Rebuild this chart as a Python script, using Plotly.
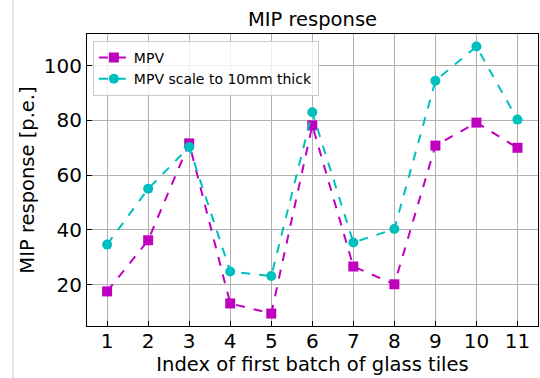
import plotly.graph_objects as go

idx = [1, 2, 3, 4, 5, 6, 7, 8, 9, 10, 11]
mpv = [17.5, 36.2, 71.6, 13.1, 9.4, 78.2, 26.6, 20.1, 70.8, 79.2, 70.0]
mpv_10mm = [34.6, 55.0, 70.3, 24.8, 23.1, 83.0, 35.4, 40.3, 94.5, 107.0, 80.3]

MAG = "#bf00bf"
CYA = "#00bfbf"
FONT = "DejaVu Sans"

fig = go.Figure()
fig.add_trace(go.Scatter(
    x=idx, y=mpv, name="MPV", mode="lines+markers",
    line=dict(color=MAG, width=2, dash="dash"),
    marker=dict(symbol="square", size=10, color=MAG)))
fig.add_trace(go.Scatter(
    x=idx, y=mpv_10mm, name="MPV scale to 10mm thick", mode="lines+markers",
    line=dict(color=CYA, width=2, dash="dash"),
    marker=dict(symbol="circle", size=10, color=CYA)))

axis_common = dict(
    showgrid=True, gridcolor="#b0b0b0", gridwidth=1,
    showline=True, linecolor="black", linewidth=1, mirror=True,
    ticks="inside", ticklen=5, tickcolor="black",
    tickfont=dict(family=FONT, size=20, color="black"),
    zeroline=False,
)

fig.update_layout(
    width=540, height=378,
    margin=dict(l=87, r=2, t=34, b=52),
    paper_bgcolor="white", plot_bgcolor="white",
    font=dict(family=FONT, color="black"),
    title=dict(text="MIP response", xref="paper", x=0.5, xanchor="center",
               y=0.948, yanchor="middle",
               font=dict(family=FONT, size=19.5, color="black")),
    xaxis=dict(axis_common, range=[0.51, 11.5], tickvals=idx, ticklabelstandoff=-3,
               title=dict(text="Index of first batch of glass tiles", standoff=0,
                          font=dict(family=FONT, size=19.5, color="black"))),
    yaxis=dict(axis_common, range=[4.85, 111.6], tickvals=[20, 40, 60, 80, 100],
               title=dict(text="MIP response [p.e.]", standoff=3,
                          font=dict(family=FONT, size=19.5, color="black"))),
    legend=dict(x=0.013, y=0.976, xanchor="left", yanchor="top",
                bgcolor="rgba(255,255,255,0.8)", bordercolor="#cccccc", borderwidth=1,
                font=dict(family=FONT, size=14, color="black"),
                itemwidth=30, tracegroupgap=0),
    showlegend=True,
)

fig.add_shape(type="line", xref="paper", yref="paper",
              x0=-0.164, x1=-0.164, y0=-0.18, y1=1.12,
              line=dict(color="#cccccc", width=1))

fig.write_html("out.html")
